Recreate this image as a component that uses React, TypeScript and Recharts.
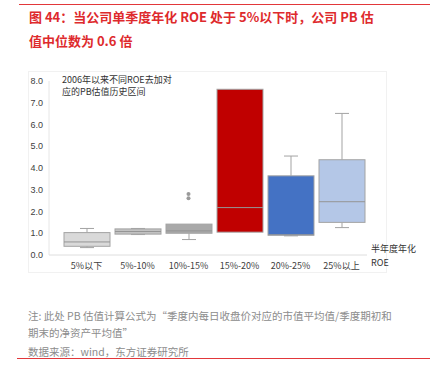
import { Bar, ComposedChart, Line, XAxis, YAxis } from 'recharts'

const categories = ['5%以下', '5%-10%', '10%-15%', '15%-20%', '20%-25%', '25%以上']
const minVals = [0.34, 0.94, 0.71, 1.05, 0.88, 1.26]
const q1Vals = [0.4, 0.96, 1.0, 1.05, 0.91, 1.5]
const medianVals = [0.6, 1.08, 1.11, 2.18, 0.93, 2.45]
const q3Vals = [1.03, 1.2, 1.42, 7.62, 3.64, 4.38]
const maxVals = [1.22, 1.22, 1.42, 7.62, 4.55, 6.51]
const outlierA = [null, null, 2.81, null, null, null]
const outlierB = [null, null, 2.61, null, null, null]
const yTicks = [0, 1, 2, 3, 4, 5, 6, 7, 8]

const FILLS = ['#d9d9d9', '#c2c2c2', '#a9a9a9', '#c00000', '#4472c4', '#b4c7e7']
const EDGE = '#a3a3a3'
const FONT = '"Liberation Sans", "Noto Sans CJK SC", sans-serif'
const CJK = '"Noto Sans CJK SC", sans-serif'

const data = categories.map((cat, i) => ({
  cat,
  min: minVals[i],
  q1: q1Vals[i],
  median: medianVals[i],
  q3: q3Vals[i],
  max: maxVals[i],
  range: [q1Vals[i], q3Vals[i]],
  out1: outlierA[i],
  out2: outlierB[i],
}))

function BoxShape(props: any) {
  const { x, y, width, height, payload, index } = props
  const unit = height / (payload.q3 - payload.q1)
  const yOf = (v: number) => y + height - (v - payload.q1) * unit
  const cx = x + width / 2
  const cap = 7
  const yMax = yOf(payload.max)
  const yMin = yOf(payload.min)
  const yMed = yOf(payload.median)
  return (
    <g>
      {payload.max > payload.q3 && (
        <>
          <line x1={cx} x2={cx} y1={yMax} y2={y} stroke={EDGE} />
          <line x1={cx - cap} x2={cx + cap} y1={yMax} y2={yMax} stroke={EDGE} />
        </>
      )}
      {payload.min < payload.q1 && (
        <>
          <line x1={cx} x2={cx} y1={y + height} y2={yMin} stroke={EDGE} />
          <line x1={cx - cap} x2={cx + cap} y1={yMin} y2={yMin} stroke={EDGE} />
        </>
      )}
      <rect x={x} y={y} width={width} height={height} fill={FILLS[index]} stroke={EDGE} strokeWidth={1} />
      <line x1={x} x2={x + width} y1={yMed} y2={yMed} stroke="#959595" strokeWidth={1} />
    </g>
  )
}

const abs = (left: number, top: number): React.CSSProperties => ({ position: 'absolute', left, top })
const small: React.CSSProperties = { fontFamily: CJK, fontSize: 9, color: '#333', lineHeight: '10px', whiteSpace: 'nowrap' }

export default function App() {
  return (
    <div style={{ position: 'absolute', left: 0, top: 0, width: 434, height: 368, background: '#fff', overflow: 'hidden' }}>
      <div style={{ ...abs(19, 4), width: 411, height: 1, background: '#e2373a' }} />
      <div style={{ ...abs(29, 5), fontFamily: CJK, fontSize: 13, fontWeight: 700, color: '#de2a2d', lineHeight: '24px', whiteSpace: 'nowrap' }}>
        图 44：当公司单季度年化 ROE 处于 5%以下时，公司 PB 估<br />值中位数为 0.6 倍
      </div>

      <div style={{ ...abs(28, 71), width: 359, height: 202, border: '1px solid #f1f1f1', boxSizing: 'border-box' }} />

      <div style={abs(0, 0)}>
        <ComposedChart width={434} height={300} data={data} margin={{ top: 81, right: 67, bottom: 15, left: 0 }}>
          <XAxis
            dataKey="cat"
            padding={{ left: 12, right: 0 }}
            axisLine={{ stroke: '#dedede' }}
            tickLine={false}
            tick={{ fontSize: 9, fill: '#404040', fontFamily: CJK }}
            height={30}
            interval={0}
          />
          <YAxis
            domain={[0, 8]}
            ticks={yTicks}
            width={49}
            axisLine={{ stroke: '#e6e6e6' }}
            tickLine={false}
            tickSize={4}
            tickMargin={2}
            tick={{ fontSize: 9, fill: '#404040', fontFamily: FONT }}
            tickFormatter={(v: number) => v.toFixed(1)}
          />
          <Bar dataKey="range" barSize={46} shape={<BoxShape />} isAnimationActive={false} />
          <Line dataKey="out1" stroke="none" dot={{ r: 2, fill: '#9a9a9a', stroke: 'none' }} activeDot={false} isAnimationActive={false} />
          <Line dataKey="out2" stroke="none" dot={{ r: 2, fill: '#9a9a9a', stroke: 'none' }} activeDot={false} isAnimationActive={false} />
        </ComposedChart>
      </div>

      <div style={{ ...abs(62, 74), fontFamily: CJK, fontSize: 9, color: '#333', lineHeight: '12px', whiteSpace: 'nowrap' }}>
        2006年以来不同ROE去加对<br />应的PB估值历史区间
      </div>
      <div style={{ ...abs(371, 244), ...small }}>半年度年化</div>
      <div style={{ ...abs(371, 258), ...small }}>ROE</div>

      <div style={{ ...abs(28, 307), fontFamily: CJK, fontSize: 10.5, color: '#8c8c8c', lineHeight: '17px', whiteSpace: 'nowrap' }}>
        注: 此处 PB 估值计算公式为“季度内每日收盘价对应的市值平均值/季度期初和<br />期末的净资产平均值”
      </div>
      <div style={{ ...abs(28, 343), fontFamily: CJK, fontSize: 10.5, color: '#8c8c8c', lineHeight: '17px', whiteSpace: 'nowrap' }}>
        数据来源：wind，东方证券研究所
      </div>
      <div style={{ ...abs(17, 358), width: 413, height: 1, background: '#e2373a' }} />
    </div>
  )
}
